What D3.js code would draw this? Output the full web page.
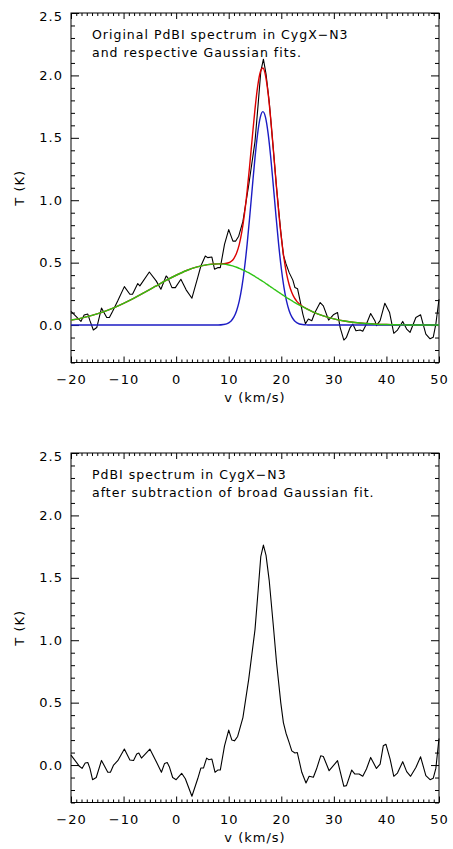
<!DOCTYPE html>
<html>
<head>
<meta charset="utf-8">
<script src="https://cdn.jsdelivr.net/npm/d3@7"></script>
<style>
  body { margin: 0; background: #fff; }
  text { font-family: "DejaVu Sans", sans-serif; fill: #000; }
</style>
</head>
<body>
<script>
// observed spectrum (top panel), velocity in km/s and T in K
const specV = [-20, -18.1, -17.5, -16.8, -16.4, -15.75, -15.1, -14.2, -13.2, -12.7, -12.1, -11.1, -9.85, -8.8, -8.3, -7.3, -6.9, -5.1, -3.8, -2.9, -1.9, -1.6, -0.8, -0.15, 0.9, 1.9, 3.0, 4.1, 4.7, 5.55, 6.0, 6.8, 7.3, 7.9, 8.4, 9.2, 10.0, 10.8, 11.3, 11.9, 12.7, 13.8, 15.0, 15.6, 16.1, 16.6, 17.1, 17.7, 18.5, 19.1, 19.9, 20.4, 20.9, 21.5, 22.2, 22.6, 23.1, 23.6, 24.1, 24.6, 25.15, 25.8, 26.4, 27.4, 28.0, 29.0, 29.9, 30.7, 31.2, 31.9, 32.4, 33.1, 33.6, 34.2, 35.0, 35.5, 36.2, 37.0, 37.8, 38.1, 38.8, 39.7, 40.6, 41.4, 42.1, 43.1, 43.85, 44.5, 45.6, 46.5, 47.5, 48.3, 48.9, 49.4, 50.0];
const specT = [0.11, 0.03, 0.08, 0.088, 0.035, -0.04, -0.02, 0.136, 0.061, 0.061, 0.109, 0.194, 0.308, 0.247, 0.247, 0.332, 0.314, 0.425, 0.354, 0.287, 0.393, 0.38, 0.30, 0.30, 0.367, 0.282, 0.215, 0.38, 0.473, 0.553, 0.54, 0.545, 0.447, 0.46, 0.46, 0.646, 0.765, 0.672, 0.672, 0.712, 0.83, 1.12, 1.47, 1.77, 2.03, 2.13, 2.01, 1.79, 1.40, 1.10, 0.75, 0.56, 0.49, 0.42, 0.36, 0.30, 0.29, 0.19, 0.088, 0.01, 0.048, 0.035, 0.10, 0.18, 0.154, 0.04, 0.082, 0.10, -0.02, -0.12, -0.098, -0.02, 0.008, -0.045, -0.04, -0.05, 0.008, 0.093, 0.035, -0.005, 0.035, 0.175, 0.10, -0.066, -0.04, 0.029, -0.032, -0.058, 0.061, 0.082, -0.072, -0.11, -0.098, 0.008, 0.207];

// spectrum after subtraction of the broad component (bottom panel)
const subV = [-20, -18.4, -17.9, -17.3, -16.8, -16.4, -15.9, -15.2, -14.2, -13.0, -12.5, -11.9, -11.1, -9.85, -8.8, -8.1, -7.5, -7.1, -6.6, -5.0, -3.7, -2.8, -2.2, -1.7, -1.3, -0.66, 0.0, 1.05, 1.75, 3.0, 4.1, 4.7, 5.2, 5.8, 6.2, 6.8, 7.4, 7.9, 8.4, 9.2, 10.0, 10.6, 11.1, 11.7, 12.7, 13.8, 15.0, 15.6, 16.1, 16.6, 17.1, 17.7, 18.5, 19.1, 19.9, 20.4, 20.9, 21.5, 22.0, 22.6, 23.05, 23.9, 24.7, 25.3, 26.1, 26.7, 27.5, 28.0, 29.1, 30.7, 31.9, 32.4, 33.4, 34.0, 34.8, 35.5, 36.2, 37.0, 38.1, 38.8, 39.4, 39.9, 40.7, 41.4, 42.1, 43.1, 43.85, 44.6, 45.6, 46.5, 47.5, 48.3, 48.9, 49.4, 50.0];
const subT = [0.08, -0.01, -0.027, 0.016, 0.02, -0.027, -0.117, -0.10, 0.037, -0.058, -0.058, 0.0, 0.035, 0.128, 0.04, 0.037, 0.088, 0.096, 0.056, 0.128, 0.02, -0.058, 0.013, 0.02, -0.013, -0.10, -0.117, -0.066, -0.11, -0.25, -0.11, -0.024, -0.024, 0.056, 0.043, 0.048, -0.058, -0.04, -0.04, 0.154, 0.28, 0.20, 0.194, 0.229, 0.38, 0.686, 1.085, 1.40, 1.67, 1.762, 1.68, 1.48, 1.11, 0.82, 0.50, 0.34, 0.255, 0.18, 0.114, 0.096, 0.10, -0.058, -0.144, -0.09, -0.098, -0.032, 0.074, 0.069, -0.045, 0.035, -0.17, -0.165, -0.04, -0.072, -0.072, -0.09, -0.032, 0.061, -0.027, 0.008, 0.154, 0.167, 0.048, -0.09, -0.064, 0.027, -0.053, -0.09, -0.019, 0.066, -0.085, -0.117, -0.106, -0.027, 0.213];

// Gaussian fit curves
const fitV = [-20, -18, -16, -14, -12, -10, -8, -6, -4, -2, 0, 2, 4, 6, 8, 9, 10, 10.5, 11, 11.5, 12, 12.5, 13, 13.5, 14, 14.5, 15, 15.5, 16, 16.5, 17, 17.5, 18, 18.5, 19, 19.5, 20, 20.5, 21, 21.5, 22, 22.5, 23, 24, 25, 26, 28, 30, 32, 34, 36, 38, 40, 42, 44, 46, 48, 50];
const broadFit = [0.040, 0.056, 0.078, 0.104, 0.136, 0.174, 0.216, 0.262, 0.309, 0.356, 0.399, 0.437, 0.466, 0.484, 0.490, 0.488, 0.481, 0.476, 0.470, 0.463, 0.454, 0.445, 0.436, 0.425, 0.414, 0.402, 0.389, 0.376, 0.362, 0.349, 0.335, 0.320, 0.306, 0.291, 0.277, 0.263, 0.249, 0.235, 0.221, 0.208, 0.195, 0.182, 0.170, 0.147, 0.126, 0.106, 0.074, 0.050, 0.032, 0.020, 0.012, 0.007, 0.004, 0.002, 0.001, 0, 0, 0];
const narrowFit = [0, 0, 0, 0, 0, 0, 0, 0, 0, 0, 0, 0, 0, 0, 0, 0.004, 0.018, 0.035, 0.065, 0.115, 0.191, 0.303, 0.455, 0.646, 0.870, 1.109, 1.341, 1.534, 1.664, 1.710, 1.664, 1.534, 1.341, 1.109, 0.870, 0.646, 0.455, 0.303, 0.191, 0.115, 0.065, 0.035, 0.018, 0.004, 0.001, 0, 0, 0, 0, 0, 0, 0, 0, 0, 0, 0, 0, 0];
const sumFit = [0.040, 0.056, 0.078, 0.104, 0.136, 0.174, 0.216, 0.262, 0.309, 0.356, 0.399, 0.437, 0.466, 0.484, 0.490, 0.492, 0.499, 0.511, 0.535, 0.578, 0.645, 0.748, 0.891, 1.071, 1.284, 1.511, 1.730, 1.910, 2.026, 2.059, 1.999, 1.854, 1.647, 1.400, 1.147, 0.909, 0.704, 0.538, 0.412, 0.323, 0.260, 0.217, 0.188, 0.151, 0.127, 0.106, 0.074, 0.050, 0.032, 0.020, 0.012, 0.007, 0.004, 0.002, 0.001, 0, 0, 0];

const xTicks = [-20, -10, 0, 10, 20, 30, 40, 50];
const yTicks = [0, 0.5, 1.0, 1.5, 2.0, 2.5];
const topText = ["Original PdBI spectrum in CygX\u2212N3", "and respective Gaussian fits."];
const bottomText = ["PdBI spectrum in CygX\u2212N3", "after subtraction of broad Gaussian fit."];

const width = 453, height = 849;
const margin = {left: 71, right: 14};
const fontSize = "13px";

const svg = d3.select("body").append("svg")
  .attr("width", width)
  .attr("height", height);

const x = d3.scaleLinear()
  .domain([-20, 50])
  .range([margin.left, width - margin.right]);

const xMinor = d3.range(-20, 51, 1).filter(d => !xTicks.includes(d));
const yMinor = d3.range(-3, 26, 1).map(d => d / 10).filter(d => !yTicks.includes(d));

function toPoints(vs, ts) {
  return vs.map((v, i) => ({v: v, t: ts[i]}));
}

function drawPanel(top, bottom, texts, series) {
  const y = d3.scaleLinear().domain([-0.3, 2.5]).range([bottom, top]);
  const g = svg.append("g");

  // inward ticks on all four sides, labels only bottom and left
  const axes = [
    [d3.axisBottom(x).tickValues(xTicks).tickSize(-6).tickPadding(12), `translate(0,${bottom})`, "x"],
    [d3.axisBottom(x).tickValues(xMinor).tickSize(-3), `translate(0,${bottom})`, null],
    [d3.axisTop(x).tickValues(xTicks).tickSize(-6), `translate(0,${top})`, null],
    [d3.axisTop(x).tickValues(xMinor).tickSize(-3), `translate(0,${top})`, null],
    [d3.axisLeft(y).tickValues(yTicks).tickSize(-8).tickPadding(8).tickFormat(d3.format(".1f")), `translate(${x(-20)},0)`, "y"],
    [d3.axisLeft(y).tickValues(yMinor).tickSize(-4), `translate(${x(-20)},0)`, null],
    [d3.axisRight(y).tickValues(yTicks).tickSize(-8), `translate(${x(50)},0)`, null],
    [d3.axisRight(y).tickValues(yMinor).tickSize(-4), `translate(${x(50)},0)`, null]
  ];
  axes.forEach(([ax, tr, labels]) => {
    if (!labels) ax.tickFormat("");
    const a = g.append("g").attr("transform", tr).call(ax.tickSizeOuter(0));
    a.select(".domain").remove();
    a.selectAll(".tick line").attr("stroke", "#000").attr("stroke-width", 1);
    a.attr("font-family", null).attr("font-size", null);
    a.selectAll("text")
      .style("font-size", fontSize)
      .style("letter-spacing", "1px");
    // top label sits just inside the frame, as in the original
    if (labels === "y") a.selectAll(".tick text").filter(d => d === 2.5).attr("dy", "0.6em");
  });

  g.append("rect")
    .attr("x", x(-20)).attr("y", top)
    .attr("width", x(50) - x(-20)).attr("height", bottom - top)
    .attr("fill", "none").attr("stroke", "#000").attr("stroke-width", 1);

  const line = d3.line().x(d => x(d.v)).y(d => y(d.t));
  series.forEach(s => {
    g.append("path")
      .datum(toPoints(s.v, s.t))
      .attr("fill", "none")
      .attr("stroke", s.color)
      .attr("stroke-width", s.w)
      .attr("stroke-linejoin", "round")
      .attr("d", line.curve(s.smooth ? d3.curveMonotoneX : d3.curveLinear));
  });

  texts.forEach((t, i) => {
    g.append("text")
      .attr("x", 92)
      .attr("y", top + 25.5 + i * 18.5)
      .style("font-size", "12.5px")
      .style("letter-spacing", "1px")
      .text(t);
  });

  g.append("text")
    .attr("transform", `translate(24,${(top + bottom) / 2}) rotate(-90)`)
    .attr("text-anchor", "middle")
    .style("font-size", fontSize)
    .style("letter-spacing", "1px")
    .text("T (K)");

  g.append("text")
    .attr("x", x(15))
    .attr("y", bottom + 39)
    .attr("text-anchor", "middle")
    .style("font-size", fontSize)
    .style("letter-spacing", "1px")
    .text("v (km/s)");
}

drawPanel(13, 362.5, topText, [
  {v: specV, t: specT, color: "#000", w: 1.1, smooth: false},
  {v: fitV, t: sumFit, color: "#dd0000", w: 1.4, smooth: true},
  {v: fitV, t: narrowFit, color: "#1c1cc4", w: 1.4, smooth: true},
  {v: fitV, t: broadFit, color: "#2ec414", w: 1.4, smooth: true}
]);
drawPanel(453, 802.5, bottomText, [
  {v: subV, t: subT, color: "#000", w: 1.1, smooth: false}
]);
</script>
</body>
</html>
